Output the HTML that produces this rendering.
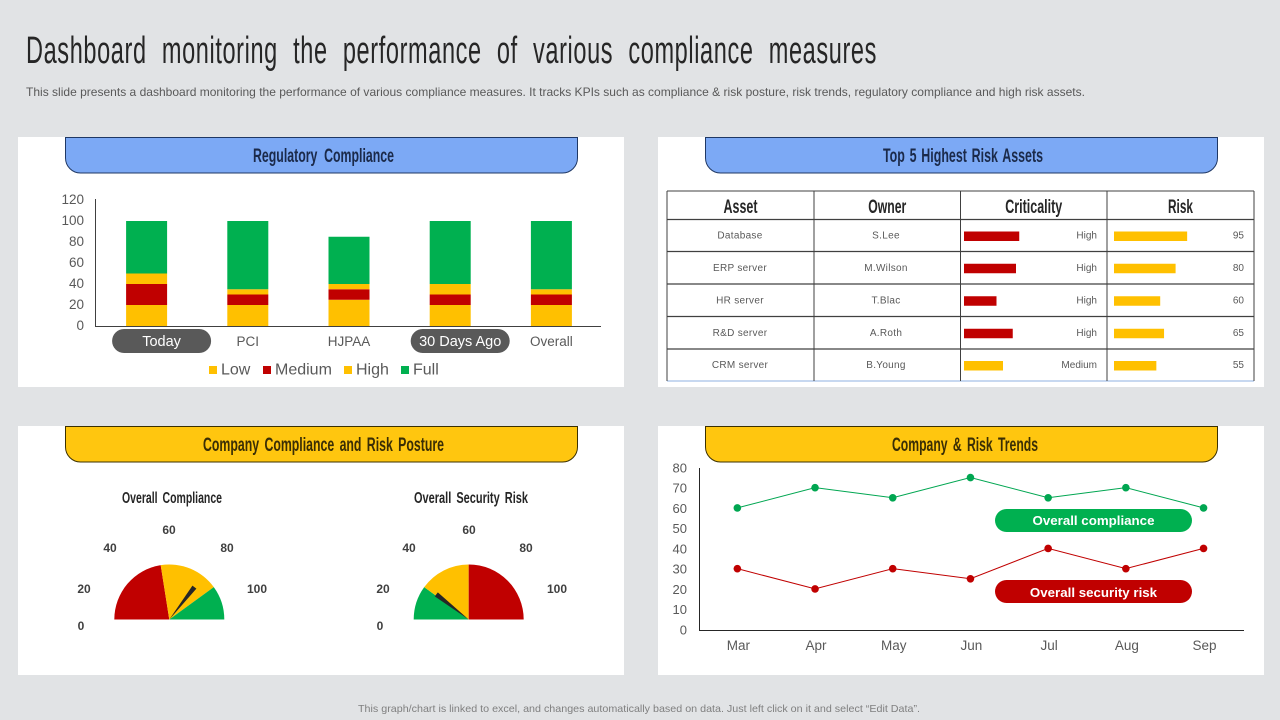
<!DOCTYPE html>
<html lang="en">
<head>
<meta charset="utf-8">
<title>Compliance dashboard</title>
<style>
html,body{margin:0;padding:0;background:#E1E3E5;width:1280px;height:720px;overflow:hidden}
svg{display:block;font-family:"Liberation Sans",sans-serif}
.cond{font-weight:bold}
</style>
</head>
<body>
<svg id="dash" width="1280" height="720" viewBox="0 0 1280 720" xmlns="http://www.w3.org/2000/svg">
  <rect x="0" y="0" width="1280" height="720" fill="#E1E3E5"/>
  <text x="26" y="63" font-size="38" fill="#262626" textLength="851" lengthAdjust="spacingAndGlyphs" style="word-spacing:13px;letter-spacing:1px">Dashboard monitoring the performance of various compliance measures</text>
  <text x="26" y="96" font-size="12" fill="#595959" textLength="1059" lengthAdjust="spacingAndGlyphs">This slide presents a dashboard monitoring the performance of various compliance measures. It tracks KPIs such as compliance &amp; risk posture, risk trends, regulatory compliance and high risk assets.</text>

  <rect x="18" y="137" width="606" height="250" fill="#fff"/>
  <rect x="658" y="137" width="606" height="250" fill="#fff"/>
  <rect x="18" y="426" width="606" height="249" fill="#fff"/>
  <rect x="658" y="426" width="606" height="249" fill="#fff"/>

  <path d="M65.5,137.5H577.5V158a15,15 0 0 1 -15,15H80.5a15,15 0 0 1 -15,-15Z" fill="#7CA9F5" stroke="#1F3864" stroke-width="1"/>
  <path d="M705.5,137.5H1217.5V158a15,15 0 0 1 -15,15H720.5a15,15 0 0 1 -15,-15Z" fill="#7CA9F5" stroke="#1F3864" stroke-width="1"/>
  <path d="M65.5,426.5H577.5V447a15,15 0 0 1 -15,15H80.5a15,15 0 0 1 -15,-15Z" fill="#FFC60F" stroke="#3B3000" stroke-width="1"/>
  <path d="M705.5,426.5H1217.5V447a15,15 0 0 1 -15,15H720.5a15,15 0 0 1 -15,-15Z" fill="#FFC60F" stroke="#3B3000" stroke-width="1"/>

  <text class="cond" x="253" y="162" font-size="19" fill="#1B2A4A" textLength="141" lengthAdjust="spacingAndGlyphs" style="word-spacing:5px">Regulatory Compliance</text>
  <text class="cond" x="883" y="162" font-size="19" fill="#1B2A4A" textLength="160" lengthAdjust="spacingAndGlyphs" style="word-spacing:2px">Top 5 Highest Risk Assets</text>
  <text class="cond" x="203" y="451" font-size="19" fill="#3A2E05" textLength="241" lengthAdjust="spacingAndGlyphs" style="word-spacing:3px">Company Compliance and Risk Posture</text>
  <text class="cond" x="892" y="451" font-size="19" fill="#3A2E05" textLength="146" lengthAdjust="spacingAndGlyphs" style="word-spacing:3px">Company &amp; Risk Trends</text>

  <text class="cond" x="122" y="503" font-size="16" fill="#262626" textLength="100" lengthAdjust="spacingAndGlyphs" style="word-spacing:3px">Overall Compliance</text>
  <text class="cond" x="414" y="503" font-size="16" fill="#262626" textLength="114" lengthAdjust="spacingAndGlyphs" style="word-spacing:3px">Overall Security Risk</text>

  <g font-size="12" font-weight="bold" fill="#404040" text-anchor="middle">
    <text x="81" y="630">0</text>
    <text x="84" y="593">20</text>
    <text x="110" y="552">40</text>
    <text x="169" y="534">60</text>
    <text x="227" y="552">80</text>
    <text x="257" y="593">100</text>
  </g>
  <g font-size="12" font-weight="bold" fill="#404040" text-anchor="middle">
    <text x="380" y="630">0</text>
    <text x="383" y="593">20</text>
    <text x="409" y="552">40</text>
    <text x="469" y="534">60</text>
    <text x="526" y="552">80</text>
    <text x="557" y="593">100</text>
  </g>

  <text x="358" y="712" font-size="10.5" fill="#7F7F7F" textLength="562" lengthAdjust="spacingAndGlyphs">This graph/chart is linked to excel, and changes automatically based on data. Just left click on it and select “Edit Data”.</text>
</svg>

<script>
// ---- Regulatory compliance stacked bars ----
const barCategories = ['Today', 'PCI', 'HJPAA', '30 Days Ago', 'Overall'];
const highlightedCategories = ['Today', '30 Days Ago'];
const lowValues = [20, 20, 25, 20, 20];
const mediumValues = [20, 10, 10, 10, 10];
const highValues = [10, 5, 5, 10, 5];
const fullValues = [50, 65, 45, 60, 65];
const barTicks = [0, 20, 40, 60, 80, 100, 120];
const legendLabels = ['Low', 'Medium', 'High', 'Full'];

// ---- Risk asset table ----
const tableHeaders = ['Asset', 'Owner', 'Criticality', 'Risk'];
const assetNames = ['Database', 'ERP server', 'HR server', 'R&D server', 'CRM server'];
const assetOwners = ['S.Lee', 'M.Wilson', 'T.Blac', 'A.Roth', 'B.Young'];
const criticalityLabels = ['High', 'High', 'High', 'High', 'Medium'];
const criticalityValues = [85, 80, 50, 75, 60];
const riskValues = [95, 80, 60, 65, 55];

// ---- Gauges ----
const complianceSegments = [45, 35, 20];
const complianceNeedle = 71;
const securitySegments = [20, 30, 50];
const securityNeedle = 21;

// ---- Trend lines ----
const trendMonths = ['Mar', 'Apr', 'May', 'Jun', 'Jul', 'Aug', 'Sep'];
const complianceTrend = [60, 70, 65, 75, 65, 70, 60];
const securityTrend = [30, 20, 30, 25, 40, 30, 40];
const trendTicks = [0, 10, 20, 30, 40, 50, 60, 70, 80];

const RED = '#C00000', AMBER = '#FFC000', GREEN = '#00B050', GREY = '#595959';
const NS = 'http://www.w3.org/2000/svg';
const root = document.getElementById('dash');

function mk(tag, attrs, content) {
  const el = document.createElementNS(NS, tag);
  for (const k in attrs) el.setAttribute(k, attrs[k]);
  if (content !== undefined) el.textContent = content;
  root.appendChild(el);
  return el;
}
function slug(s) { return String(s).toLowerCase().replace(/[^a-z0-9]+/g, '-'); }

// Stacked bar axes
const barX = i => 95 + (i + 0.5) * 101.2 + 1;
const barY = v => 326 - v * 1.05;
const barWidth = 41;

barTicks.forEach(t => {
  const el = mk('text', {x: 84, y: barY(t) + 4, 'font-size': 13.5, fill: GREY, 'text-anchor': 'end'}, t);
  
  
});
const barSeries = [
  {name: 'low', values: lowValues, color: AMBER},
  {name: 'medium', values: mediumValues, color: RED},
  {name: 'high', values: highValues, color: AMBER},
  {name: 'full', values: fullValues, color: GREEN}
];
barCategories.forEach((cat, i) => {
  let base = 0;
  barSeries.forEach(s => {
    const v = s.values[i];
    const el = mk('rect', {x: barX(i) - barWidth / 2, y: barY(base + v), width: barWidth, height: barY(base) - barY(base + v), fill: s.color});
    
    
    base += v;
  });
  const isHighlighted = highlightedCategories.includes(cat);
  const pillShift = i === 0 ? 15 : 10;
  const labelX = barX(i) + (isHighlighted ? pillShift : 0);
  if (isHighlighted) {
    const pill = mk('rect', {x: labelX - 49.5, y: 329, width: 99, height: 24, rx: 12, fill: GREY});
    
    
  }
  const lab = mk('text', {x: labelX, y: 346, 'font-size': isHighlighted ? 14.5 : 13.5, fill: isHighlighted ? '#fff' : GREY, 'text-anchor': 'middle'}, cat);
  
  
});
const barYAxis = mk('line', {x1: 95.5, y1: 199, x2: 95.5, y2: 326.5, stroke: '#404040', 'stroke-width': 1});


const barXAxis = mk('line', {x1: 95, y1: 326.5, x2: 601, y2: 326.5, stroke: '#404040', 'stroke-width': 1});



// Legend
let legendX = 209;
const legendGaps = [54, 81, 57, 0];
legendLabels.forEach((l, i) => {
  const sw = mk('rect', {x: legendX, y: 366, width: 8, height: 8, fill: barSeries[i].color});
  
  
  const tx = mk('text', {x: legendX + 12, y: 374.5, 'font-size': 16, fill: GREY}, l);
  
  
  legendX += legendGaps[i];
});

// Table
const colEdges = [667, 814, 960.5, 1107, 1254];
const rowEdges = [191, 219.5, 251.5, 284, 316.5, 349, 381];
const critW = v => v * 0.65;
const riskW = v => v * 0.77;
rowEdges.forEach((y, i) => {
  const isLast = i === rowEdges.length - 1;
  const ln = mk('line', {x1: 667, y1: y, x2: 1254, y2: y, stroke: isLast ? '#8FB0E0' : '#404040', 'stroke-width': (i === 0 || isLast) ? 1 : 1.3});
  
  
});
colEdges.forEach((x, i) => {
  const ln = mk('line', {x1: x, y1: 191, x2: x, y2: 381, stroke: '#404040', 'stroke-width': 1});
  
  
});
const headerSpans = [34, 38, 57, 25];
tableHeaders.forEach((h, i) => {
  const cx = (colEdges[i] + colEdges[i + 1]) / 2;
  const el = mk('text', {x: cx - headerSpans[i] / 2, y: 213, 'font-size': 19, 'font-weight': 'bold', fill: '#262626', textLength: headerSpans[i], lengthAdjust: 'spacingAndGlyphs'}, h);
  
  
});
assetNames.forEach((name, i) => {
  const cy = (rowEdges[i + 1] + rowEdges[i + 2]) / 2;
  const a = mk('text', {x: 740, y: cy + 3, 'font-size': 10, fill: GREY, 'text-anchor': 'middle', 'letter-spacing': 0.3}, name);
  
  
  const o = mk('text', {x: 886, y: cy + 3, 'font-size': 10, fill: GREY, 'text-anchor': 'middle', 'letter-spacing': 0.3}, assetOwners[i]);
  
  
  const isHigh = criticalityLabels[i] === 'High';
  const cb = mk('rect', {x: 964, y: cy - 4, width: critW(criticalityValues[i]), height: 9.5, fill: isHigh ? RED : AMBER});
  
  
  const cl = mk('text', {x: 1097, y: cy + 3, 'font-size': 10, fill: GREY, 'text-anchor': 'end'}, criticalityLabels[i]);
  
  
  const rb = mk('rect', {x: 1114, y: cy - 4, width: riskW(riskValues[i]), height: 9.5, fill: AMBER});
  
  
  const rl = mk('text', {x: 1244, y: cy + 3, 'font-size': 10, fill: GREY, 'text-anchor': 'end'}, riskValues[i]);
  
  
});

// Gauges
const gaugeR = 55;
const gaugeAngle = v => Math.PI * (1 - v / 100);
function gaugePoint(cx, cy, r, v) {
  return [cx + r * Math.cos(gaugeAngle(v)), cy - r * Math.sin(gaugeAngle(v))];
}
function drawGauge(prefix, cx, cy, segments, colors, needle) {
  let start = 0;
  segments.forEach((seg, i) => {
    const p0 = gaugePoint(cx, cy, gaugeR, start);
    const p1 = gaugePoint(cx, cy, gaugeR, start + seg);
    const el = mk('path', {d: `M${cx},${cy}L${p0[0]},${p0[1]}A${gaugeR},${gaugeR} 0 0 1 ${p1[0]},${p1[1]}Z`, fill: colors[i]});
    
    
    start += seg;
  });
  const tip = gaugePoint(cx, cy, 41, needle);
  const a = gaugeAngle(needle);
  const nx = -Math.sin(a) * 2.5, ny = -Math.cos(a) * 2.5;
  const nd = mk('polygon', {points: `${cx},${cy} ${tip[0] + nx},${tip[1] + ny} ${tip[0] - nx},${tip[1] - ny}`, fill: '#262626'});
  
  
}
drawGauge('compliance', 169.3, 619.5, complianceSegments, [RED, AMBER, GREEN], complianceNeedle);
drawGauge('security', 468.7, 619.5, securitySegments, [GREEN, AMBER, RED], securityNeedle);

// Trend chart
const trendX = i => 698.5 + (i + 0.5) * 77.7;
const trendY = v => 629.4 - v * 2.025;
trendTicks.forEach(t => {
  const el = mk('text', {x: 687, y: trendY(t) + 5, 'font-size': 13, fill: GREY, 'text-anchor': 'end'}, t);
  
  
});
trendMonths.forEach((m, i) => {
  const el = mk('text', {x: trendX(i) + 1, y: 650, 'font-size': 13.5, fill: GREY, 'text-anchor': 'middle'}, m);
  
  
});
const trendYAxis = mk('line', {x1: 699.5, y1: 468, x2: 699.5, y2: 631, stroke: '#262626', 'stroke-width': 1});


const trendXAxis = mk('line', {x1: 699, y1: 630.5, x2: 1244, y2: 630.5, stroke: '#262626', 'stroke-width': 1});



function drawTrend(prefix, values, color) {
  const pts = values.map((v, i) => trendX(i) + ',' + trendY(v)).join(' ');
  const line = mk('polyline', {points: pts, fill: 'none', stroke: color, 'stroke-width': 1});
  
  
  values.forEach((v, i) => {
    const dot = mk('circle', {cx: trendX(i), cy: trendY(v), r: 3.8, fill: color});
    
    
  });
}
drawTrend('compliance-trend', complianceTrend, '#00A651');
drawTrend('security-trend', securityTrend, RED);

const compPill = mk('rect', {x: 995, y: 509, width: 197, height: 23, rx: 11.5, fill: GREEN});


const compText = mk('text', {x: 1093.5, y: 525, 'font-size': 13.3, 'font-weight': 'bold', fill: '#fff', 'text-anchor': 'middle'}, 'Overall compliance');


const riskPill = mk('rect', {x: 995, y: 580, width: 197, height: 23, rx: 11.5, fill: RED});


const riskText = mk('text', {x: 1093.5, y: 597, 'font-size': 13.3, 'font-weight': 'bold', fill: '#fff', 'text-anchor': 'middle'}, 'Overall security risk');


</script>
</body>
</html>
